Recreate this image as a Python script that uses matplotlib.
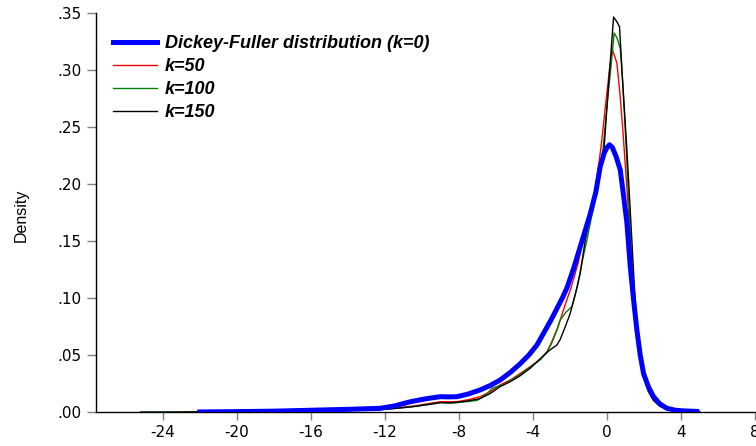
import matplotlib
matplotlib.use("Agg")
import matplotlib.pyplot as plt

# ---------------- data ----------------
df_x = [-22.0, -20.0, -18.0, -16.0, -14.0, -12.25, -11.5, -10.6, -9.8, -9.0, -8.5, -8.1, -7.5,
        -6.85, -6.3, -5.77, -5.2, -4.69, -4.2, -3.78, -3.43, -3.0, -2.7, -2.4, -2.16, -1.8,
        -1.5, -1.2, -0.9, -0.6, -0.36, -0.15, 0.0, 0.14, 0.3, 0.5, 0.72, 0.9, 1.08, 1.26,
        1.45, 1.62, 1.8, 1.98, 2.25, 2.52, 2.85, 3.24, 3.7, 4.2, 4.86]
df_y = [0.0003, 0.0006, 0.0010, 0.0018, 0.0026, 0.0035, 0.0055, 0.0093, 0.0118, 0.0137, 0.0135,
        0.0137, 0.0160, 0.0196, 0.0235, 0.0283, 0.0352, 0.0425, 0.0505, 0.0590, 0.0690, 0.0815,
        0.0910, 0.1005, 0.1090, 0.1260, 0.1420, 0.1580, 0.1740, 0.1930, 0.2155, 0.2270, 0.2320,
        0.2345, 0.2320, 0.2240, 0.2125, 0.1900, 0.1660, 0.1280, 0.0970, 0.0720, 0.0500, 0.0340,
        0.0220, 0.0137, 0.0075, 0.0035, 0.0018, 0.0012, 0.0008]

k50_x = [-23.0, -20, -18, -16, -14, -12.25, -11.5, -10.45, -9.5, -9.0, -8.5, -8.1, -7.5, -6.85,
         -6.3, -5.77, -5.2, -4.69, -4.15, -3.6, -3.24, -3.0, -2.7, -2.5, -2.2, -1.98, -1.55,
         -1.3, -1.0, -0.75, -0.5, -0.3, 0.0, 0.15, 0.29, 0.42, 0.54, 0.7, 0.86, 1.0, 1.17, 1.3,
         1.45, 1.62, 1.8, 1.98, 2.25, 2.52, 2.85, 3.24, 3.7, 4.3, 5.04]
k50_y = [0.0002, 0.0004, 0.0007, 0.0012, 0.0018, 0.0026, 0.0036, 0.0055, 0.0080, 0.0093, 0.0092,
         0.0093, 0.0110, 0.0137, 0.0180, 0.0240, 0.0285, 0.0340, 0.0400, 0.0465, 0.0530, 0.0610,
         0.0725, 0.0820, 0.0970, 0.1070, 0.1310, 0.1500, 0.1650, 0.1830, 0.2100, 0.2350, 0.2800,
         0.3020, 0.3180, 0.3120, 0.3060, 0.2800, 0.2476, 0.2150, 0.1746, 0.1380, 0.0990, 0.0680,
         0.0460, 0.0310, 0.0180, 0.0105, 0.0055, 0.0028, 0.0016, 0.0011, 0.0005]

k100_x = [-25.2, -23, -20, -18, -16, -14, -12.25, -11.5, -10.45, -9.5, -9.0, -8.5, -8.1, -7.5,
          -7.0, -6.5, -6.2, -5.95, -5.6, -5.2, -4.69, -4.15, -3.6, -3.24, -3.0, -2.7, -2.52,
          -2.2, -1.89, -1.6, -1.35, -1.08, -0.7, -0.4, -0.2, 0.0, 0.2, 0.39, 0.55, 0.72, 0.85,
          0.99, 1.15, 1.3, 1.45, 1.62, 1.8, 1.98, 2.25, 2.52, 2.85, 3.24, 3.7, 4.3]
k100_y = [0.0001, 0.0002, 0.0004, 0.0007, 0.0011, 0.0017, 0.0024, 0.0033, 0.0050, 0.0072, 0.0085,
          0.0082, 0.0085, 0.0095, 0.0105, 0.0160, 0.0210, 0.0225, 0.0240, 0.0280, 0.0330, 0.0395,
          0.0460, 0.0525, 0.0600, 0.0720, 0.0810, 0.0880, 0.0926, 0.1100, 0.1310, 0.1510, 0.1820,
          0.2100, 0.2320, 0.2680, 0.3000, 0.3325, 0.3280, 0.3190, 0.2900, 0.2476, 0.1950, 0.1450,
          0.1020, 0.0700, 0.0470, 0.0310, 0.0180, 0.0105, 0.0055, 0.0028, 0.0016, 0.0010]

k150_x = [-25.2, -23, -20, -18, -16, -14, -12.25, -11.5, -10.45, -9.5, -9.0, -8.5, -8.1, -7.5,
          -6.85, -6.3, -5.77, -5.2, -4.69, -4.15, -3.6, -3.24, -3.0, -2.7, -2.52, -2.25, -1.98,
          -1.7, -1.44, -1.17, -0.8, -0.45, -0.15, 0.1, 0.25, 0.36, 0.55, 0.68, 0.85, 1.08, 1.2,
          1.35, 1.5, 1.65, 1.82, 1.98, 2.25, 2.52, 2.85, 3.24, 3.7, 4.2]
k150_y = [0.0001, 0.0002, 0.0004, 0.0007, 0.0011, 0.0017, 0.0024, 0.0033, 0.0050, 0.0072, 0.0085,
          0.0083, 0.0087, 0.0100, 0.0120, 0.0165, 0.0225, 0.0270, 0.0320, 0.0385, 0.0470, 0.0525,
          0.0555, 0.0590, 0.0640, 0.0750, 0.0868, 0.1040, 0.1220, 0.1510, 0.1800, 0.2050, 0.2320,
          0.2900, 0.3220, 0.3465, 0.3420, 0.3380, 0.2900, 0.2300, 0.1950, 0.1500, 0.1050, 0.0730,
          0.0490, 0.0320, 0.0185, 0.0105, 0.0055, 0.0028, 0.0015, 0.0010]

series_labels = ["Dickey-Fuller distribution (k=0)", "k=50", "k=100", "k=150"]
x_ticks = [-24, -20, -16, -12, -8, -4, 0, 4, 8]
x_tick_labels = ["-24", "-20", "-16", "-12", "-8", "-4", "0", "4", "8"]
y_ticks = [0.00, 0.05, 0.10, 0.15, 0.20, 0.25, 0.30, 0.35]
y_tick_labels = [".00", ".05", ".10", ".15", ".20", ".25", ".30", ".35"]

# ---------------- plot ----------------
plt.rcParams['font.family'] = ['Liberation Sans', 'DejaVu Sans']

W, H = 756, 446
fig = plt.figure(figsize=(W / 100, H / 100), dpi=100)
ax = fig.add_axes([96 / W, 1 - 412.3 / H, (755 - 96) / W, (412.3 - 13) / H])

ax.plot(k50_x, k50_y, color=(1, 0, 0), lw=1.0, zorder=2)
ax.plot(k100_x, k100_y, color=(0, 0.5, 0), lw=1.0, zorder=3)
ax.plot(k150_x, k150_y, color='black', lw=1.0, zorder=4)
ax.plot(df_x, df_y, color=(0, 0, 1), lw=3.6, zorder=5)

ax.set_xlim(-27.6, 8)
ax.set_ylim(0, 0.35)
ax.set_xticks(x_ticks)
ax.set_xticklabels(x_tick_labels)
ax.set_yticks(y_ticks)
ax.set_yticklabels(y_tick_labels)
for lab in ax.get_xticklabels() + ax.get_yticklabels():
    lab.set_family(['DejaVu Sans'])
    lab.set_fontsize(11)

for s in ['top', 'right']:
    ax.spines[s].set_visible(False)
for s in ['left', 'bottom']:
    ax.spines[s].set_linewidth(1.0)
    ax.spines[s].set_color('black')

ax.tick_params(axis='y', direction='out', length=6.5, width=1, color='#808080', pad=4)
ax.tick_params(axis='x', direction='out', length=5.5, width=1, color='#808080', pad=4)
ax.set_ylabel("Density", fontsize=11.5)
ax.yaxis.set_label_coords((29 - 96) / 659, (412.3 - 215) / 399.3)

handles = ax.get_lines()
order = [3, 0, 1, 2]
leg = ax.legend([handles[i] for i in order], series_labels, loc='upper left',
                bbox_to_anchor=(0.0258, 0.944), frameon=False, borderaxespad=0, borderpad=0,
                handlelength=2.44, handletextpad=0.45, labelspacing=0.33,
                prop={'family': ['Liberation Sans', 'DejaVu Sans'], 'weight': 'bold',
                      'style': 'italic', 'size': 13})

fig.savefig("out.png", dpi=100)
